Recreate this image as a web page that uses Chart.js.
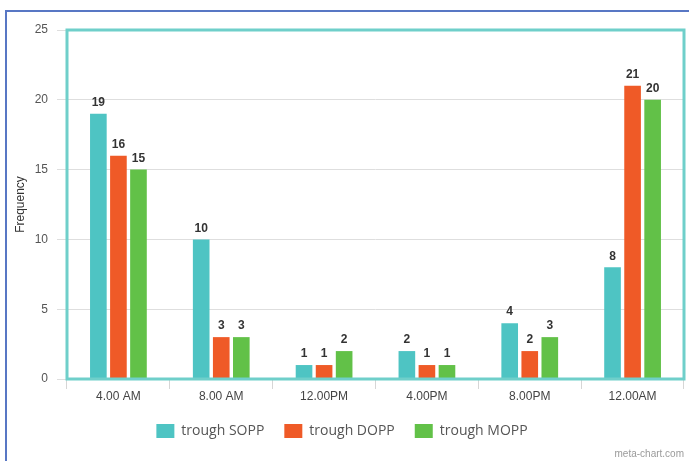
<!DOCTYPE html>
<html>
<head>
<meta charset="utf-8">
<script src="https://cdn.jsdelivr.net/npm/chart.js@4.4.1/dist/chart.umd.min.js"></script>
<style>
  html, body { margin: 0; padding: 0; background: #fff; overflow: hidden; }
  #wrap { position: relative; width: 689px; height: 461px; }
  #frame { position: absolute; left: 5px; top: 10px; width: 720px; height: 500px;
           border-left: 2px solid #5877c4; border-top: 2px solid #5877c4; }
  canvas { position: absolute; left: 0; top: 0; }
</style>
</head>
<body>
<div id="wrap">
  <div id="frame"></div>
  <canvas id="c" width="689" height="461"></canvas>
</div>
<script>
// Time-of-day categories and trough counts per regimen
const categories = ['4.00 AM', '8.00 AM', '12.00PM', '4.00PM', '8.00PM', '12.00AM'];
const troughSOPP = [19, 10, 1, 2, 4, 8];
const troughDOPP = [16, 3, 1, 1, 2, 21];
const troughMOPP = [15, 3, 2, 1, 3, 20];
const yTicks = [0, 5, 10, 15, 20, 25];

const TEAL = '#4ec4c3';
const ORANGE = '#ef5a27';
const GREEN = '#62c148';

// Teal frame around the plotting area
const plotFrame = {
  id: 'plotFrame',
  afterDraw(chart) {
    const a = chart.chartArea, ctx = chart.ctx;
    ctx.save();
    ctx.strokeStyle = '#6fcfca';
    ctx.lineWidth = 3;
    ctx.strokeRect(a.left, a.top, a.right - a.left, a.bottom - a.top);
    ctx.restore();
  }
};

// Value labels above every bar
const valueLabels = {
  id: 'valueLabels',
  afterDatasetsDraw(chart) {
    const ctx = chart.ctx;
    ctx.save();
    ctx.font = 'bold 12px "Liberation Sans", Arial, sans-serif';
    ctx.fillStyle = '#333';
    ctx.textAlign = 'center';
    ctx.textBaseline = 'bottom';
    chart.data.datasets.forEach((ds, i) => {
      chart.getDatasetMeta(i).data.forEach((bar, j) => {
        ctx.fillText(String(ds.data[j]), bar.x, bar.y - 5);
      });
    });
    ctx.restore();
  }
};

// Small site credit in the lower right corner
const credit = {
  id: 'credit',
  afterDraw(chart) {
    const ctx = chart.ctx;
    ctx.save();
    ctx.font = '10px "Liberation Sans", Arial, sans-serif';
    ctx.fillStyle = '#9a9a9a';
    ctx.textAlign = 'right';
    ctx.textBaseline = 'middle';
    ctx.fillText('meta-chart.com', 684, 454);
    ctx.restore();
  }
};

new Chart(document.getElementById('c'), {
  type: 'bar',
  data: {
    labels: categories,
    datasets: [
      { label: 'trough SOPP', data: troughSOPP, backgroundColor: TEAL },
      { label: 'trough DOPP', data: troughDOPP, backgroundColor: ORANGE },
      { label: 'trough MOPP', data: troughMOPP, backgroundColor: GREEN }
    ]
  },
  options: {
    responsive: false,
    animation: false,
    devicePixelRatio: 1,
    layout: { padding: { left: 0, top: 30, right: 5, bottom: 13 } },
    datasets: { bar: { categoryPercentage: 0.585, barPercentage: 0.83 } },
    scales: {
      x: {
        grid: { drawOnChartArea: false, drawTicks: true, tickLength: 10, color: '#d6d6d6', offset: true },
        border: { display: false },
        ticks: { color: '#444', font: { family: '"Liberation Sans", Arial, sans-serif', size: 12 }, padding: 0 },
        afterFit(s) { s.height = 25; }
      },
      y: {
        min: 0, max: 25,
        afterBuildTicks(s) { s.ticks = yTicks.map(v => ({ value: v })); },
        grid: { color: '#dedede', tickLength: 10, drawTicks: true },
        border: { display: false },
        ticks: { color: '#555', font: { family: '"Liberation Sans", Arial, sans-serif', size: 12 }, padding: 9 },
        title: { display: true, text: 'Frequency', color: '#333', font: { family: '"Liberation Sans", Arial, sans-serif', size: 12 }, padding: { top: 13, bottom: 0 } },
        afterFit(s) { s.width = 67; }
      }
    },
    plugins: {
      legend: {
        position: 'bottom',
        labels: {
          boxWidth: 18, boxHeight: 14, padding: 20, color: '#555',
          font: { family: '"Open Sans", sans-serif', size: 14 }
        }
      },
      tooltip: { enabled: false }
    }
  },
  plugins: [plotFrame, valueLabels, credit]
});
</script>
</body>
</html>
